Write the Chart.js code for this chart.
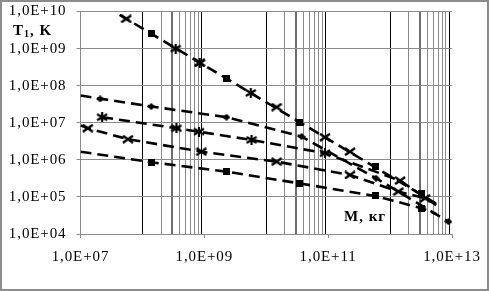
<!DOCTYPE html>
<html>
<head>
<meta charset="utf-8">
<script src="https://cdn.jsdelivr.net/npm/chart.js@4/dist/chart.umd.min.js"></script>
<style>
html,body{margin:0;padding:0;background:#fff;}
#wrap{width:490px;height:291px;}
</style>
</head>
<body>
<div id="wrap"><canvas id="c" width="490" height="291"></canvas></div>
<script>
// ---- tick values / labels ----
const xTickValues = [1e7, 1e9, 1e11, 1e13];
const xTickLabels = ['1,0E+07', '1,0E+09', '1,0E+11', '1,0E+13'];
const yTickValues = [1e4, 1e5, 1e6, 1e7, 1e8, 1e9, 1e10];
const yTickLabels = ['1,0E+04', '1,0E+05', '1,0E+06', '1,0E+07', '1,0E+08', '1,0E+09', '1,0E+10'];
const minorDecades = [1e8, 1e10, 1e12];
const minorSteps = [1, 2, 3, 4, 5, 6, 7, 8, 9];
const yTitle = ['T', '1', ', K'];
const xTitle = 'M, кг';

// ---- markers (M, T) ----
const squareM = [1.42e8, 2.30e9, 3.50e10, 5.72e11, 3.26e12, 1.39e8, 2.28e9, 3.50e10, 5.72e11, 3.26e12];
const squareT = [2.61e9, 1.59e8, 1.02e7, 6.55e5, 1.20e5, 8.61e5, 4.80e5, 2.31e5, 1.06e5, 4.94e4];
const diamondM = [2.08e7, 1.39e8, 2.28e9, 3.72e10, 5.93e11, 8.77e12];
const diamondT = [4.40e7, 2.73e7, 1.41e7, 4.23e6, 3.19e5, 2.15e4];
const crossM = [5.49e7, 8.43e8, 1.47e10, 8.87e10, 2.25e11, 1.45e12, 1.31e7, 5.83e7, 8.98e8, 1.47e10, 2.25e11, 1.36e12, 3.68e12];
const crossT = [6.35e9, 4.12e8, 2.63e7, 4.07e6, 1.66e6, 2.75e5, 7.13e6, 3.60e6, 1.66e6, 8.94e5, 3.91e5, 1.39e5, 9.2e4];
const starM = [2.24e7, 3.54e8, 8.20e8, 5.78e9, 3.44e8, 8.43e8, 5.63e9, 8.87e10];
const starT = [1.41e7, 7.13e6, 5.77e6, 3.44e6, 1.00e9, 4.12e8, 6.39e7, 1.51e6];

// ---- dashed curves (M, T) ----
const curveAM = [4.28e7, 6.44e12];
const curveAT = [8.15e9, 5.70e4];
const curveBM = [1e7, 1.41e8, 2.30e9, 9.15e9, 3.72e10, 5.93e11, 8.77e12];
const curveBT = [5.41e7, 2.73e7, 1.41e7, 7.73e6, 4.23e6, 3.19e5, 2.15e4];
const curveCM = [1e7, 1.31e7, 5.83e7, 8.98e8, 1.47e10, 2.25e11, 1.36e12, 3.68e12, 5.55e12];
const curveCT = [8.48e6, 7.13e6, 3.60e6, 1.66e6, 8.94e5, 3.91e5, 1.39e5, 9.2e4, 6.5e4];
const curveDM = [2.24e7, 3.54e8, 5.78e9, 8.87e10, 1.45e12, 5.55e12];
const curveDT = [1.41e7, 7.13e6, 3.44e6, 1.51e6, 2.75e5, 6.0e4];
const curveEM = [1e7, 1.39e8, 2.28e9, 3.50e10, 5.72e11, 3.26e12, 5.55e12];
const curveET = [1.66e6, 8.61e5, 4.80e5, 2.31e5, 1.06e5, 4.94e4, 3.47e4];

const pts = (xs, ys) => xs.map((x, i) => ({x: x, y: ys[i]}));

// ---- marker images ----
function mk(w, h, fn) { const c = document.createElement('canvas'); c.width = w; c.height = h; const g = c.getContext('2d'); g.strokeStyle = '#000'; g.fillStyle = '#000'; fn(g, w, h); return c; }
const imgSquare = mk(7, 7, (g, w, h) => g.fillRect(0, 0, w, h));
const imgDiamond = mk(8, 7, (g, w, h) => { g.beginPath(); g.moveTo(w / 2, 0); g.lineTo(w, h / 2); g.lineTo(w / 2, h); g.lineTo(0, h / 2); g.closePath(); g.fill(); });
const imgCross = mk(12, 9, (g, w, h) => { g.lineWidth = 2.4; g.beginPath(); g.moveTo(1, 1); g.lineTo(w - 1, h - 1); g.moveTo(w - 1, 1); g.lineTo(1, h - 1); g.stroke(); });
const imgStar = mk(12, 10, (g, w, h) => { g.lineWidth = 2.2; g.beginPath(); g.moveTo(1, 2); g.lineTo(w - 1, h - 2); g.moveTo(w - 1, 2); g.lineTo(1, h - 2); g.moveTo(w / 2, 0); g.lineTo(w / 2, h); g.stroke(); });

const markerDs = (data, img) => ({data: data, showLine: false, pointStyle: img, pointRadius: 5, pointHoverRadius: 5, borderColor: '#000', backgroundColor: '#000'});
const curveDs = (data) => ({data: data, showLine: true, pointRadius: 0, borderColor: '#000', borderWidth: 2.6, borderDash: [11, 6], fill: false, tension: 0});

const xGridValues = [];
xTickValues.forEach(v => xGridValues.push(v));
minorDecades.forEach(d => minorSteps.forEach(k => xGridValues.push(d * k)));
xGridValues.sort((a, b) => a - b);

const isLabeled = v => xTickValues.some(t => Math.abs(t - v) / t < 1e-6);

const frame = {
  id: 'frame',
  beforeDraw(chart) {
    const g = chart.ctx;
    g.save();
    g.fillStyle = '#fff';
    g.fillRect(0, 0, chart.width, chart.height);
    g.restore();
    g.letterSpacing = '0.9px';
  },
  afterDraw(chart) {
    const g = chart.ctx;
    g.save();
    g.strokeStyle = '#8c8c8c';
    g.lineWidth = 2;
    g.strokeRect(1, 1, chart.width - 3, chart.height - 2);
    g.fillStyle = '#000';
    g.textBaseline = 'alphabetic';
    g.letterSpacing = '1px';
    g.font = 'bold 15px "Liberation Serif"';
    let x = 13;
    g.fillText(yTitle[0], x, 35); x += g.measureText(yTitle[0]).width;
    g.font = 'bold 10px "Liberation Serif"';
    g.fillText(yTitle[1], x, 37); x += g.measureText(yTitle[1]).width;
    g.font = 'bold 15px "Liberation Serif"';
    g.fillText(yTitle[2], x, 35);
    g.fillText(xTitle, 344, 221);
    g.restore();
  }
};

new Chart(document.getElementById('c'), {
  type: 'scatter',
  data: {
    datasets: [
      markerDs(pts(squareM, squareT), imgSquare),
      markerDs(pts(diamondM, diamondT), imgDiamond),
      markerDs(pts(crossM, crossT), imgCross),
      markerDs(pts(starM, starT), imgStar),
      curveDs(pts(curveAM, curveAT)),
      curveDs(pts(curveBM, curveBT)),
      curveDs(pts(curveCM, curveCT)),
      curveDs(pts(curveDM, curveDT)),
      curveDs(pts(curveEM, curveET))
    ]
  },
  options: {
    responsive: false,
    animation: false,
    events: [],
    layout: {padding: {left: 0, right: 38, top: 11.5, bottom: 0}},
    plugins: {legend: {display: false}, tooltip: {enabled: false}},
    scales: {
      x: {
        type: 'logarithmic',
        min: 1e7, max: 1e13,
        afterBuildTicks: s => { s.ticks = xGridValues.map(v => ({value: v})); },
        afterFit: s => { s.height = 57; s.paddingLeft = 0; s.paddingRight = 0; },
        ticks: {
          autoSkip: false, maxRotation: 0, padding: 10,
          font: {family: '"Liberation Serif"', size: 15},
          color: '#000',
          callback: v => { const i = xTickValues.findIndex(t => Math.abs(t - v) / t < 1e-6); return i >= 0 ? xTickLabels[i] : ''; }
        },
        grid: {
          drawTicks: true, tickLength: 4,
          tickColor: c => (c.tick && isLabeled(c.tick.value)) ? '#8c8c8c' : 'rgba(0,0,0,0)',
          color: c => {
            if (!c.tick) return 'rgba(0,0,0,0)';
            const v = c.tick.value;
            if (isLabeled(v)) return 'rgba(0,0,0,0)';
            const d = Math.pow(10, Math.floor(Math.log10(v) + 1e-9));
            const k = Math.round(v / d);
            if (k === 1 || k === 9) return '#000';
            if (k === 3) return '#6e6e6e';
            return '#8a8a8a';
          },
          lineWidth: c => {
            if (!c.tick) return 1;
            const v = c.tick.value;
            const d = Math.pow(10, Math.floor(Math.log10(v) + 1e-9));
            return Math.round(v / d) === 3 ? 2 : 1;
          }
        },
        border: {display: true, color: '#8c8c8c', width: 1}
      },
      y: {
        type: 'logarithmic',
        min: 1e4, max: 1e10,
        afterBuildTicks: s => { s.ticks = yTickValues.map(v => ({value: v})); },
        afterFit: s => { s.width = 80.5; s.paddingTop = 0; s.paddingBottom = 0; },
        ticks: {
          autoSkip: false, padding: 10,
          font: {family: '"Liberation Serif"', size: 15},
          color: '#000',
          callback: v => { const i = yTickValues.findIndex(t => Math.abs(t - v) / t < 1e-6); return i >= 0 ? yTickLabels[i] : ''; }
        },
        grid: {color: '#8c8c8c', lineWidth: 1, tickLength: 4, tickColor: '#8c8c8c'},
        border: {display: true, color: '#8c8c8c', width: 1}
      }
    }
  },
  plugins: [frame]
});
</script>
</body>
</html>
